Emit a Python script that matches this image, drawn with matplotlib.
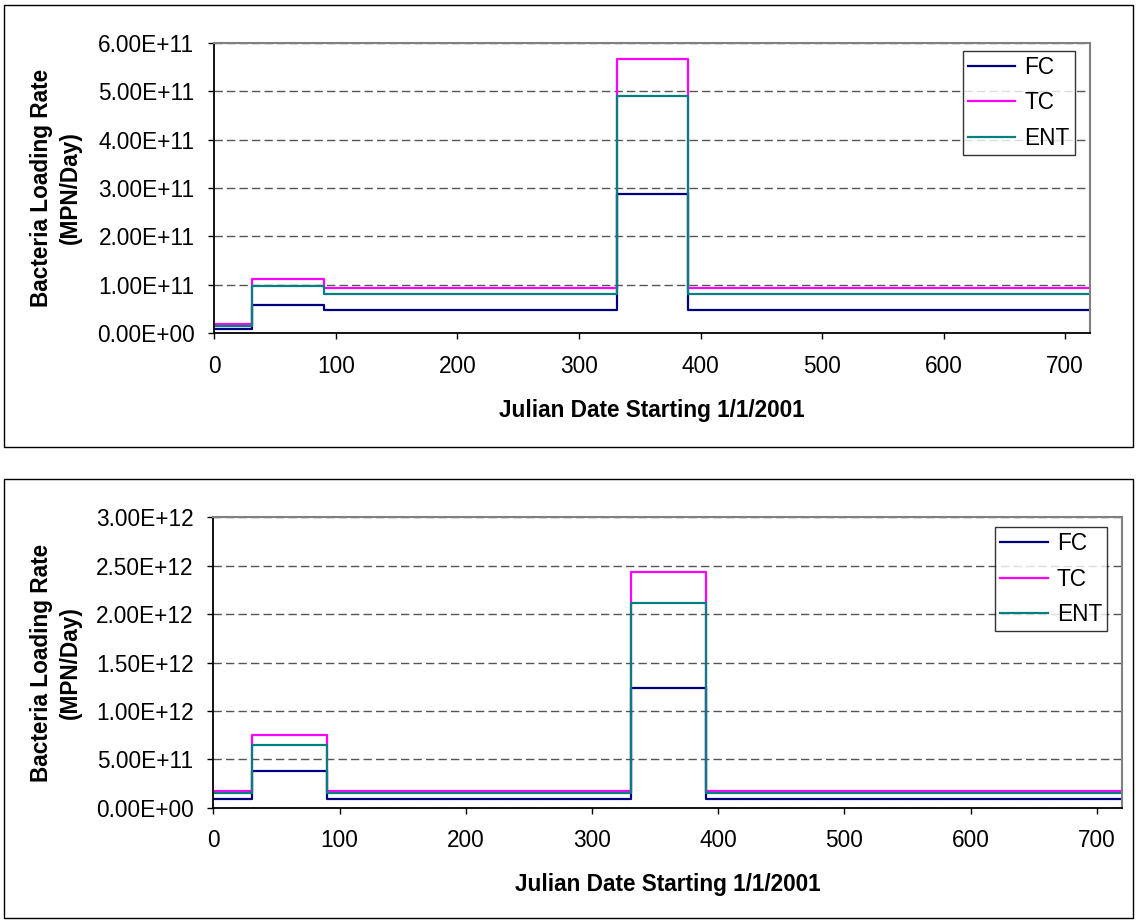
import matplotlib
matplotlib.use("Agg")
import matplotlib.pyplot as plt
from matplotlib.patches import Rectangle
from matplotlib.ticker import FuncFormatter

plt.rcParams["font.family"] = ["Liberation Sans", "DejaVu Sans"]

# step breakpoints (Julian day) shared by both panels
days = [0, 31, 90, 331, 390, 720]
series = ["FC", "TC", "ENT"]
colors = {"FC": "#000080", "TC": "#FF00FF", "ENT": "#008080"}

# segment values, MPN/day
top_fc = [0.089e11, 0.58e11, 0.48e11, 2.88e11, 0.48e11]
top_tc = [0.186e11, 1.13e11, 0.93e11, 5.66e11, 0.93e11]
top_ent = [0.157e11, 0.97e11, 0.805e11, 4.90e11, 0.805e11]

bot_fc = [0.95e11, 3.75e11, 0.95e11, 1.24e12, 0.95e11]
bot_tc = [1.76e11, 7.47e11, 1.76e11, 2.44e12, 1.76e11]
bot_ent = [1.55e11, 6.44e11, 1.55e11, 2.11e12, 1.55e11]

top_ticks = [0, 1e11, 2e11, 3e11, 4e11, 5e11, 6e11]
bot_ticks = [0, 5e11, 1e12, 1.5e12, 2e12, 2.5e12, 3e12]
x_ticks = [0, 100, 200, 300, 400, 500, 600, 700]

W, H = 1136, 921
FS = 16.3
fig = plt.figure(figsize=(W / 100, H / 100), dpi=100)


def px_axes(l, t, r, b):
    return fig.add_axes([l / W, 1 - b / H, (r - l) / W, (b - t) / H])


def frame(l, t, r, b):
    fig.patches.append(Rectangle((l / W, 1 - b / H), (r - l) / W, (b - t) / H,
                                 transform=fig.transFigure, fill=False,
                                 edgecolor="black", lw=1.0))


def panel(ax, data, yticks, leg_off, ylab_x):
    for name, vals in zip(series, data):
        ax.step(days, vals + [vals[-1]], where="post", color=colors[name],
                lw=1.6, label=name)
    ax.set_xlim(0, 720)
    ax.set_ylim(yticks[0], yticks[-1])
    ax.set_xticks(x_ticks)
    ax.set_yticks(yticks)
    ax.yaxis.set_major_formatter(FuncFormatter(lambda v, p: f"{v:.2E}"))
    ax.tick_params(axis="both", direction="out", length=4.3, width=1,
                   labelsize=FS, color="black")
    ax.tick_params(axis="y", pad=10)
    ax.tick_params(axis="x", pad=11)
    ax.yaxis.grid(True, color="#555555", lw=1, linestyle=(0, (6, 3)))
    ax.set_axisbelow(True)
    for s in ["left", "bottom"]:
        ax.spines[s].set_color("black"); ax.spines[s].set_linewidth(1.3)
    for s in ["top", "right"]:
        ax.spines[s].set_color("#808080"); ax.spines[s].set_linewidth(1.5)
    ax.set_ylabel("Bacteria Loading Rate\n(MPN/Day)", fontsize=FS,
                  fontweight="bold", va="center", linespacing=1.3)
    ax.yaxis.set_label_coords(ylab_x, 0.5)
    ax.set_xlabel("Julian Date Starting 1/1/2001", fontsize=FS,
                  fontweight="bold", va="center")
    ax.xaxis.set_label_coords(0.5, -0.265)
    leg = ax.legend(loc="upper right", bbox_to_anchor=leg_off, borderaxespad=0,
                    fontsize=FS, frameon=True, fancybox=False, edgecolor="black",
                    handlelength=2.1, handletextpad=0.4, borderpad=0.22,
                    labelspacing=0.56)
    leg.get_frame().set_linewidth(1.0)


ax1 = px_axes(214.3, 42.7, 1089.5, 333.3)
panel(ax1, [top_fc, top_tc, top_ent], top_ticks,
      (1 - 15 / 875.2, 1 - 8 / 290.6), -0.181)
frame(4, 4.7, 1133, 446.7)

ax2 = px_axes(213.3, 517.3, 1122, 807.7)
panel(ax2, [bot_fc, bot_tc, bot_ent], bot_ticks,
      (1 - 15 / 908.7, 1 - 9.7 / 290.4), -0.173)
frame(4, 479.3, 1133, 918)

fig.savefig("out.png", dpi=100)
